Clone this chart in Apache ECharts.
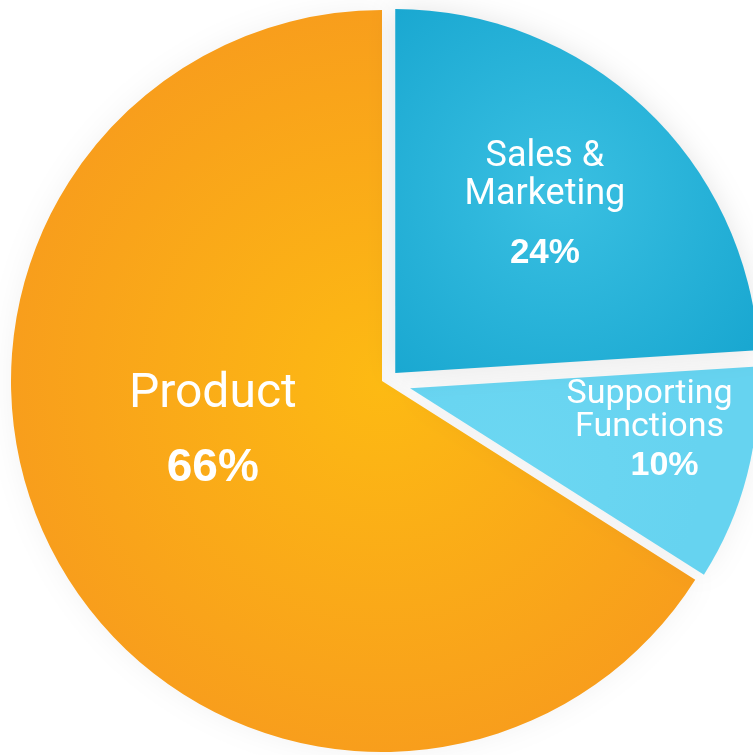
<!DOCTYPE html>
<html>
<head>
<meta charset="utf-8">
<script src="https://cdn.jsdelivr.net/npm/echarts@6/dist/echarts.min.js"></script>
<style>
html,body{margin:0;padding:0;background:#fff;}
#chart{width:753px;height:755px;}
</style>
</head>
<body>
<div id="chart"></div>
<script>
// ---- data ----
const categories = ['Sales & Marketing', 'Supporting Functions', 'Product'];
const labelNames = ['Sales &\nMarketing', 'Supporting\nFunctions', 'Product'];
const values = [24, 10, 66];

// ---- styles ----
const fills = [
  {type: 'radial', x: 0.45, y: 0.5, r: 0.75, colorStops: [{offset: 0, color: '#3AC0E2'}, {offset: 1, color: '#16A5CF'}]},
  {type: 'radial', x: 0.3, y: 0.5, r: 0.9, colorStops: [{offset: 0, color: '#6CD7F2'}, {offset: 1, color: '#66D3F0'}]},
  {type: 'radial', x: 382, y: 381, r: 371, global: true, colorStops: [{offset: 0, color: '#FDBA13'}, {offset: 1, color: '#F89E1C'}]}
];
const centers = [[385, 384], [382, 381], [382, 381]];
const radii = [364, 348, 371];
const explode = [15, 29, 0];
const shadows = ['rgba(0,0,0,0.10)', 'rgba(0,0,0,0.06)', 'rgba(0,0,0,0.05)'];
const labelStyles = [
  {n: {fontSize: 36, lineHeight: 38}, v: {fontSize: 35, lineHeight: 40, padding: [39, 0, 0, 0]}, dx: 23, dy: -42},
  {n: {fontSize: 34, lineHeight: 33}, v: {fontSize: 34, lineHeight: 36, padding: [7, 0, 0, 30]}, dx: 68, dy: -3},
  {n: {fontSize: 48, lineHeight: 54}, v: {fontSize: 46, lineHeight: 48, padding: [45, 0, 0, 0]}, dx: -4, dy: -53}
];

const drawOrder = [2, 1, 0];

const series = drawOrder.map(function (i) {
  const ls = labelStyles[i];
  return {
    type: 'pie',
    center: centers[i],
    radius: [0, radii[i]],
    startAngle: 90,
    clockwise: true,
    selectedMode: 'multiple',
    selectedOffset: explode[i],
    silent: true,
    animation: false,
    emphasis: {disabled: true},
    labelLine: {show: false},
    labelLayout: function () { return {dx: ls.dx, dy: ls.dy}; },
    data: categories.map(function (name, j) {
      const visible = j === i;
      return {
        name: name,
        value: values[j],
        selected: visible && explode[i] > 0,
        itemStyle: visible
          ? {color: fills[i], shadowBlur: 28, shadowColor: shadows[i], borderWidth: 0}
          : {color: 'rgba(0,0,0,0)', borderWidth: 0},
        label: visible ? {
          show: true,
          position: 'inside',
          formatter: function (p) { return '{n|' + labelNames[p.dataIndex] + '}\n{v|' + p.value + '%}'; },
          rich: {
            n: Object.assign({color: '#fff', fontFamily: 'Roboto', fontWeight: 'normal', align: 'center'}, ls.n),
            v: Object.assign({color: '#fff', fontFamily: 'Liberation Sans', fontWeight: 'bold', align: 'center'}, ls.v)
          }
        } : {show: false}
      };
    })
  };
});

const chart = echarts.init(document.getElementById('chart'), null, {renderer: 'canvas'});
chart.setOption({
  backgroundColor: '#ffffff',
  animation: false,
  series: series
});
</script>
</body>
</html>
